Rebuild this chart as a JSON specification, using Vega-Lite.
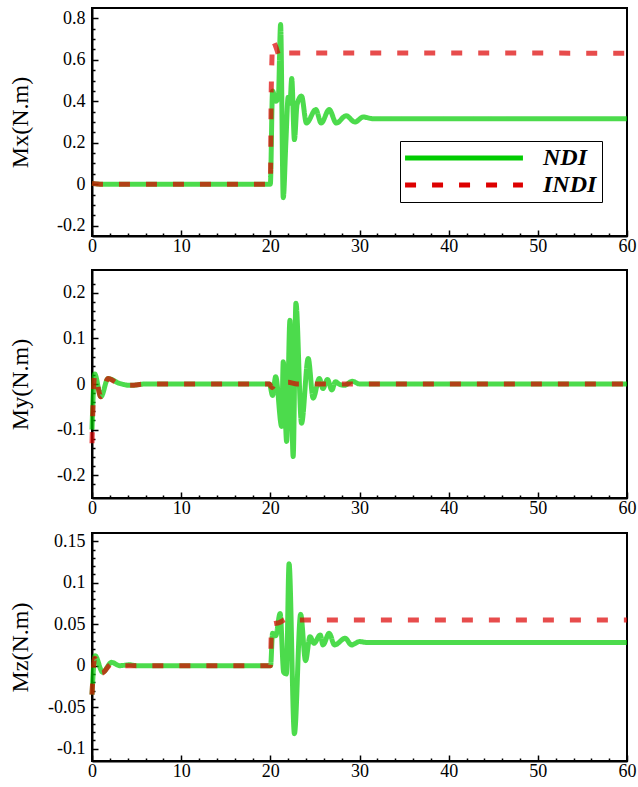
{
  "$schema": "https://vega.github.io/schema/vega-lite/v6.json",
  "padding": {"left": 7, "top": 7, "right": 2, "bottom": 2},
  "config": {
    "font": "Liberation Serif",
    "view": {"stroke": "black", "strokeWidth": 2},
    "axis": {"grid": false, "domainColor": "black", "domainWidth": 2, "tickColor": "black", "tickWidth": 1.5, "labelColor": "black", "labelFontSize": 18, "labelFont": "Liberation Serif", "labelOverlap": false, "labelFlush": false, "titleFont": "Liberation Serif", "titleFontSize": 24, "titleFontWeight": "normal", "titleColor": "black"},
    "axisX": {"labelPadding": 7},
    "axisY": {"labelPadding": 13},
    "line": {"strokeWidth": 5, "opacity": 0.7}
  },
  "data": {"values": [
    {"p":"x","s":"NDI","t":0,"v":0.004},{"p":"x","s":"NDI","t":1,"v":0},{"p":"x","s":"NDI","t":20,"v":0},{"p":"x","s":"NDI","t":20.25,"v":0.45},{"p":"x","s":"NDI","t":20.6,"v":0.40},{"p":"x","s":"NDI","t":20.9,"v":0.42},{"p":"x","s":"NDI","t":21.15,"v":0.77},{"p":"x","s":"NDI","t":21.45,"v":-0.065},{"p":"x","s":"NDI","t":21.75,"v":0.21},{"p":"x","s":"NDI","t":22.0,"v":0.42},{"p":"x","s":"NDI","t":22.2,"v":0.39},{"p":"x","s":"NDI","t":22.4,"v":0.51},{"p":"x","s":"NDI","t":22.7,"v":0.215},{"p":"x","s":"NDI","t":23.0,"v":0.385},{"p":"x","s":"NDI","t":23.5,"v":0.425},{"p":"x","s":"NDI","t":24.05,"v":0.295},{"p":"x","s":"NDI","t":25.1,"v":0.36},{"p":"x","s":"NDI","t":25.7,"v":0.295},{"p":"x","s":"NDI","t":26.6,"v":0.36},{"p":"x","s":"NDI","t":27.4,"v":0.295},{"p":"x","s":"NDI","t":28.5,"v":0.33},{"p":"x","s":"NDI","t":29.5,"v":0.30},{"p":"x","s":"NDI","t":30.4,"v":0.324},{"p":"x","s":"NDI","t":31.5,"v":0.316},{"p":"x","s":"NDI","t":60,"v":0.316},
    {"p":"x","s":"INDI","t":0,"v":0.004},{"p":"x","s":"INDI","t":1,"v":0},{"p":"x","s":"INDI","t":20,"v":0},{"p":"x","s":"INDI","t":20.1,"v":0.45},{"p":"x","s":"INDI","t":20.3,"v":0.69},{"p":"x","s":"INDI","t":20.6,"v":0.665},{"p":"x","s":"INDI","t":21.1,"v":0.61},{"p":"x","s":"INDI","t":21.6,"v":0.633},{"p":"x","s":"INDI","t":60,"v":0.632},
    {"p":"y","s":"NDI","t":0,"v":-0.10},{"p":"y","s":"NDI","t":0.3,"v":0.022},{"p":"y","s":"NDI","t":1.0,"v":-0.028},{"p":"y","s":"NDI","t":1.8,"v":0.012},{"p":"y","s":"NDI","t":3.0,"v":0.002},{"p":"y","s":"NDI","t":4.3,"v":-0.003},{"p":"y","s":"NDI","t":6,"v":0},{"p":"y","s":"NDI","t":19.9,"v":0},{"p":"y","s":"NDI","t":20.25,"v":-0.025},{"p":"y","s":"NDI","t":20.6,"v":0.016},{"p":"y","s":"NDI","t":21.27,"v":-0.093},{"p":"y","s":"NDI","t":21.45,"v":0.049},{"p":"y","s":"NDI","t":21.83,"v":-0.126},{"p":"y","s":"NDI","t":22.2,"v":0.14},{"p":"y","s":"NDI","t":22.56,"v":-0.159},{"p":"y","s":"NDI","t":22.87,"v":0.177},{"p":"y","s":"NDI","t":23.5,"v":-0.086},{"p":"y","s":"NDI","t":24.25,"v":0.056},{"p":"y","s":"NDI","t":24.8,"v":-0.031},{"p":"y","s":"NDI","t":25.5,"v":0.012},{"p":"y","s":"NDI","t":25.9,"v":-0.01},{"p":"y","s":"NDI","t":26.4,"v":0.01},{"p":"y","s":"NDI","t":26.9,"v":-0.013},{"p":"y","s":"NDI","t":27.3,"v":0.005},{"p":"y","s":"NDI","t":27.7,"v":0},{"p":"y","s":"NDI","t":28.3,"v":-0.003},{"p":"y","s":"NDI","t":29.2,"v":0.006},{"p":"y","s":"NDI","t":30,"v":0},{"p":"y","s":"NDI","t":60,"v":0},
    {"p":"y","s":"INDI","t":0,"v":-0.13},{"p":"y","s":"INDI","t":0.3,"v":0.02},{"p":"y","s":"INDI","t":1.0,"v":-0.028},{"p":"y","s":"INDI","t":1.8,"v":0.012},{"p":"y","s":"INDI","t":3.0,"v":0},{"p":"y","s":"INDI","t":4.3,"v":-0.003},{"p":"y","s":"INDI","t":6,"v":0},{"p":"y","s":"INDI","t":19.9,"v":0},{"p":"y","s":"INDI","t":20.2,"v":-0.008},{"p":"y","s":"INDI","t":20.5,"v":0},{"p":"y","s":"INDI","t":22.0,"v":0.004},{"p":"y","s":"INDI","t":23.0,"v":0},{"p":"y","s":"INDI","t":60,"v":0},
    {"p":"z","s":"NDI","t":0,"v":-0.035},{"p":"z","s":"NDI","t":0.34,"v":0.012},{"p":"z","s":"NDI","t":1.2,"v":-0.008},{"p":"z","s":"NDI","t":2.2,"v":0.004},{"p":"z","s":"NDI","t":3.1,"v":0},{"p":"z","s":"NDI","t":4.2,"v":0.001},{"p":"z","s":"NDI","t":5,"v":0},{"p":"z","s":"NDI","t":20.03,"v":0},{"p":"z","s":"NDI","t":20.25,"v":0.039},{"p":"z","s":"NDI","t":20.6,"v":0.036},{"p":"z","s":"NDI","t":21.1,"v":0.063},{"p":"z","s":"NDI","t":21.5,"v":-0.008},{"p":"z","s":"NDI","t":21.8,"v":-0.01},{"p":"z","s":"NDI","t":22.1,"v":0.123},{"p":"z","s":"NDI","t":22.7,"v":-0.082},{"p":"z","s":"NDI","t":23.4,"v":0.062},{"p":"z","s":"NDI","t":23.95,"v":0.006},{"p":"z","s":"NDI","t":24.45,"v":0.035},{"p":"z","s":"NDI","t":24.9,"v":0.027},{"p":"z","s":"NDI","t":25.6,"v":0.037},{"p":"z","s":"NDI","t":25.9,"v":0.025},{"p":"z","s":"NDI","t":26.6,"v":0.039},{"p":"z","s":"NDI","t":27.2,"v":0.025},{"p":"z","s":"NDI","t":28.4,"v":0.033},{"p":"z","s":"NDI","t":29.1,"v":0.025},{"p":"z","s":"NDI","t":30.0,"v":0.029},{"p":"z","s":"NDI","t":30.8,"v":0.028},{"p":"z","s":"NDI","t":60,"v":0.028},
    {"p":"z","s":"INDI","t":0,"v":-0.035},{"p":"z","s":"INDI","t":0.3,"v":0.009},{"p":"z","s":"INDI","t":1.1,"v":-0.009},{"p":"z","s":"INDI","t":2.2,"v":0.002},{"p":"z","s":"INDI","t":3.5,"v":0},{"p":"z","s":"INDI","t":20,"v":0},{"p":"z","s":"INDI","t":20.15,"v":0.05},{"p":"z","s":"INDI","t":21.0,"v":0.052},{"p":"z","s":"INDI","t":22.0,"v":0.057},{"p":"z","s":"INDI","t":23.0,"v":0.055},{"p":"z","s":"INDI","t":60,"v":0.055}
  ]},
  "spacing": 10,
  "resolve": {"scale": {"color": "independent", "strokeDash": "independent"}},
  "vconcat": [
    {
      "width": 535, "height": 228,
      "transform": [{"filter": "datum.p == 'x'"}],
      "encoding": {
        "x": {"field": "t", "type": "quantitative", "scale": {"domain": [0, 60], "nice": false, "zero": false},
          "axis": {"title": null, "values": [0,2,4,6,8,10,12,14,16,18,20,22,24,26,28,30,32,34,36,38,40,42,44,46,48,50,52,54,56,58,60],
            "labelExpr": "datum.value % 10 == 0 ? '' + datum.value : ''",
            "tickSize": {"condition": {"test": "datum.value % 10 == 0", "value": -6}, "value": -3}}},
        "y": {"field": "v", "type": "quantitative", "scale": {"domain": [-0.25, 0.85], "nice": false, "zero": false},
          "axis": {"title": "Mx(N.m)", "titleX": -60, "titleY": 114,
            "values": [-0.2,-0.15,-0.1,-0.05,0,0.05,0.1,0.15,0.2,0.25,0.3,0.35,0.4,0.45,0.5,0.55,0.6,0.65,0.7,0.75,0.8],
            "labelExpr": "abs(datum.value*5 - round(datum.value*5)) < 0.01 ? '' + round(datum.value*100)/100 : ''",
            "tickSize": {"condition": {"test": "abs(datum.value*5 - round(datum.value*5)) < 0.01", "value": -6}, "value": -3}}},
        "color": {"field": "s", "type": "nominal", "scale": {"domain": ["NDI", "INDI"], "range": ["#00cc00", "#dd0000"]},
          "legend": {"title": null, "orient": "none", "legendX": 308, "legendY": 133, "symbolType": "M-10,0H10", "symbolSize": 139, "symbolOffset": 47, "symbolStrokeWidth": 4, "symbolOpacity": 1, "labelFont": "Liberation Serif", "labelFontSize": 24, "labelFontStyle": "italic", "labelFontWeight": "bold", "labelColor": "black", "strokeColor": "black", "fillColor": "white", "padding": 5, "labelOffset": 67, "rowPadding": 3}},
        "strokeDash": {"field": "s", "type": "nominal", "scale": {"domain": ["NDI", "INDI"], "range": [[1, 0], [11, 16]]},
          "legend": {"title": null, "orient": "none", "legendX": 308, "legendY": 133, "symbolType": "M-10,0H10", "symbolSize": 139, "symbolOffset": 47, "symbolStrokeWidth": 4, "symbolOpacity": 1, "labelFont": "Liberation Serif", "labelFontSize": 24, "labelFontStyle": "italic", "labelFontWeight": "bold", "labelColor": "black", "strokeColor": "black", "fillColor": "white", "padding": 5, "labelOffset": 67, "rowPadding": 3}}
      },
      "layer": [
        {"transform": [{"filter": "datum.s == 'NDI'"}], "mark": {"type": "line", "interpolate": "monotone"}},
        {"transform": [{"filter": "datum.s == 'INDI'"}], "mark": {"type": "line", "interpolate": "monotone"}}
      ]
    },
    {
      "width": 535, "height": 228,
      "transform": [{"filter": "datum.p == 'y'"}],
      "encoding": {
        "x": {"field": "t", "type": "quantitative", "scale": {"domain": [0, 60], "nice": false, "zero": false},
          "axis": {"title": null, "values": [0,2,4,6,8,10,12,14,16,18,20,22,24,26,28,30,32,34,36,38,40,42,44,46,48,50,52,54,56,58,60],
            "labelExpr": "datum.value % 10 == 0 ? '' + datum.value : ''",
            "tickSize": {"condition": {"test": "datum.value % 10 == 0", "value": -6}, "value": -3}}},
        "y": {"field": "v", "type": "quantitative", "scale": {"domain": [-0.25, 0.25], "nice": false, "zero": false},
          "axis": {"title": "My(N.m)", "titleX": -60, "titleY": 114,
            "values": [-0.22,-0.2,-0.18,-0.16,-0.14,-0.12,-0.1,-0.08,-0.06,-0.04,-0.02,0,0.02,0.04,0.06,0.08,0.1,0.12,0.14,0.16,0.18,0.2,0.22],
            "labelExpr": "abs(datum.value*10 - round(datum.value*10)) < 0.01 ? '' + round(datum.value*100)/100 : ''",
            "tickSize": {"condition": {"test": "abs(datum.value*10 - round(datum.value*10)) < 0.01", "value": -6}, "value": -3}}},
        "color": {"field": "s", "type": "nominal", "scale": {"domain": ["NDI", "INDI"], "range": ["#00cc00", "#dd0000"]}, "legend": null},
        "strokeDash": {"field": "s", "type": "nominal", "scale": {"domain": ["NDI", "INDI"], "range": [[1, 0], [11, 16]]}, "legend": null}
      },
      "layer": [
        {"transform": [{"filter": "datum.s == 'NDI'"}], "mark": {"type": "line", "interpolate": "monotone"}},
        {"transform": [{"filter": "datum.s == 'INDI'"}], "mark": {"type": "line", "interpolate": "monotone"}}
      ]
    },
    {
      "width": 535, "height": 228,
      "transform": [{"filter": "datum.p == 'z'"}],
      "encoding": {
        "x": {"field": "t", "type": "quantitative", "scale": {"domain": [0, 60], "nice": false, "zero": false},
          "axis": {"title": null, "values": [0,2,4,6,8,10,12,14,16,18,20,22,24,26,28,30,32,34,36,38,40,42,44,46,48,50,52,54,56,58,60],
            "labelExpr": "datum.value % 10 == 0 ? '' + datum.value : ''",
            "tickSize": {"condition": {"test": "datum.value % 10 == 0", "value": -6}, "value": -3}}},
        "y": {"field": "v", "type": "quantitative", "scale": {"domain": [-0.115, 0.16], "nice": false, "zero": false},
          "axis": {"title": "Mz(N.m)", "titleX": -60, "titleY": 114,
            "values": [-0.1,-0.09,-0.08,-0.07,-0.06,-0.05,-0.04,-0.03,-0.02,-0.01,0,0.01,0.02,0.03,0.04,0.05,0.06,0.07,0.08,0.09,0.1,0.11,0.12,0.13,0.14,0.15],
            "labelExpr": "abs(datum.value*20 - round(datum.value*20)) < 0.01 ? '' + round(datum.value*100)/100 : ''",
            "tickSize": {"condition": {"test": "abs(datum.value*20 - round(datum.value*20)) < 0.01", "value": -6}, "value": -3}}},
        "color": {"field": "s", "type": "nominal", "scale": {"domain": ["NDI", "INDI"], "range": ["#00cc00", "#dd0000"]}, "legend": null},
        "strokeDash": {"field": "s", "type": "nominal", "scale": {"domain": ["NDI", "INDI"], "range": [[1, 0], [11, 16]]}, "legend": null}
      },
      "layer": [
        {"transform": [{"filter": "datum.s == 'NDI'"}], "mark": {"type": "line", "interpolate": "monotone"}},
        {"transform": [{"filter": "datum.s == 'INDI'"}], "mark": {"type": "line", "interpolate": "monotone"}}
      ]
    }
  ]
}
